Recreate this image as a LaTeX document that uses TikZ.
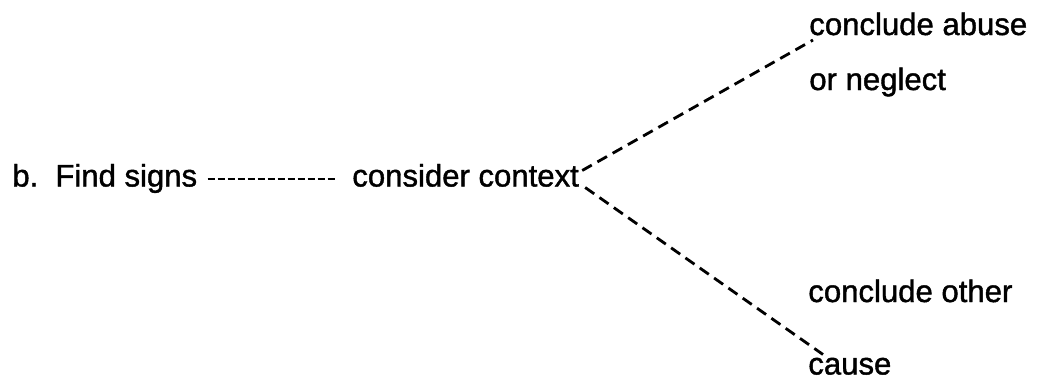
\documentclass[tikz,border=0pt]{standalone}
\usepackage{fontspec}
\setmainfont{Liberation Sans}[FakeBold=1.3]
\usepackage{tikz}
\usetikzlibrary{positioning, calc}

\begin{document}
\begin{tikzpicture}[font=\fontsize{17.7}{21}\selectfont,
		lbl/.style={inner sep=0pt, anchor=base west},
		hyph/.style={line width=1.6pt, dash pattern=on 0.15cm off 0.05cm},
		branch/.style={line width=1.6pt, dash pattern=on 0.22cm off 0.13cm}]
				\useasboundingbox (0,0) rectangle (20.86,7.58);
				
				\node[lbl] (find) at (0.24, 3.85) {b.\hspace{0.55em}Find signs};
				\node[lbl] (ctx) at (7.04, 3.85) {consider context};
				\node[lbl] (abuse) at (16.18, 6.88) {conclude abuse};
				\node[lbl] (neglect) at (16.18, 5.78) {or neglect};
				\node[lbl] (other) at (16.16, 1.54) {conclude other};
				\node[lbl] (cause) at (16.16, 0.09) {cause};
				
				\draw[hyph] ([shift={(0.2,0.15)}]find.base east) -- ([shift={(-0.34,0.15)}]ctx.base west);
				\draw[branch] ([shift={(0.06,0.32)}]ctx.base east) -- ([shift={(0.08,-0.1)}]abuse.base west);
				\draw[branch] ([shift={(0.12,-0.02)}]ctx.base east) -- ([shift={(0.3,0.4)}]cause.base west);
			\end{tikzpicture}
\end{document}
